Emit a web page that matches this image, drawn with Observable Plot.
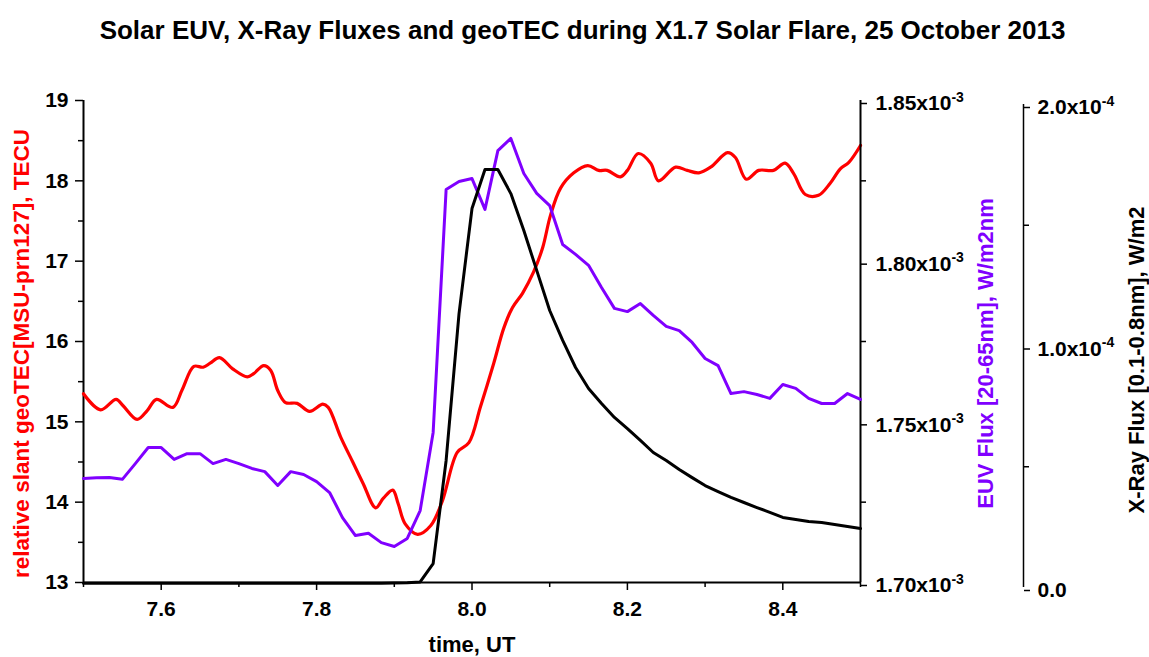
<!DOCTYPE html>
<html>
<head>
<meta charset="utf-8">
<script src="https://cdn.jsdelivr.net/npm/d3@7"></script>
<script src="https://cdn.jsdelivr.net/npm/@observablehq/plot@0.6"></script>
<style>
  html, body { margin: 0; padding: 0; background: #fff; }
  body { font-family: "Liberation Sans", Arial, sans-serif; width: 1149px; height: 657px; overflow: hidden; }
  #title { height: 60px; line-height: 60px; text-align: center; padding-left: 16px; box-sizing: border-box;
           font-size: 26px; font-weight: bold; color: #000; white-space: nowrap; }
  #chart { position: relative; width: 1149px; height: 597px; }
  #chart svg { position: absolute; left: 0; top: 0; }
</style>
</head>
<body>
<div id="title"></div>
<div id="chart"></div>
<script>
// ---------- data ----------
// geoTEC (red), time in decimal hours UT
const tecTime = [7.500,7.522,7.542,7.551,7.569,7.582,7.594,7.615,7.627,7.642,7.654,7.663,7.675,7.692,7.711,7.719,7.732,7.741,7.750,7.760,7.775,7.791,7.808,7.815,7.831,7.847,7.860,7.876,7.886,7.898,7.905,7.914,7.930,7.947,7.962,7.981,7.996,8.011,8.028,8.041,8.052,8.065,8.079,8.091,8.101,8.114,8.131,8.149,8.163,8.174,8.191,8.200,8.214,8.230,8.240,8.262,8.277,8.292,8.307,8.329,8.339,8.353,8.369,8.388,8.403,8.414,8.429,8.446,8.461,8.474,8.485,8.500];
const tecValue = [15.35,15.15,15.28,15.20,15.03,15.14,15.28,15.18,15.40,15.69,15.68,15.73,15.80,15.66,15.56,15.60,15.70,15.64,15.39,15.24,15.23,15.13,15.22,15.18,14.81,14.49,14.23,13.93,14.05,14.15,13.98,13.73,13.60,13.71,14.02,14.62,14.74,15.19,15.73,16.17,16.42,16.60,16.86,17.17,17.57,17.91,18.10,18.19,18.13,18.13,18.05,18.13,18.34,18.22,18.00,18.17,18.13,18.10,18.17,18.35,18.29,18.02,18.13,18.13,18.22,18.09,17.83,17.82,17.97,18.15,18.23,18.44];

// 1-minute flux samples
const fluxTime = [7.5,7.5167,7.5333,7.55,7.5667,7.5833,7.6,7.6167,7.6333,7.65,7.6667,7.6833,7.7,7.7167,7.7333,7.75,7.7667,7.7833,7.8,7.8167,7.8333,7.85,7.8667,7.8833,7.9,7.9167,7.9333,7.95,7.9667,7.9833,8.0,8.0167,8.0333,8.05,8.0667,8.0833,8.1,8.1167,8.1333,8.15,8.1667,8.1833,8.2,8.2167,8.2333,8.25,8.2667,8.2833,8.3,8.3167,8.3333,8.35,8.3667,8.3833,8.4,8.4167,8.4333,8.45,8.4667,8.4833,8.5];
// EUV flux [20-65nm], W/m2nm (purple)
const euvFlux = [1.7324e-3,1.7326e-3,1.7327e-3,1.7321e-3,1.7370e-3,1.7420e-3,1.7420e-3,1.7383e-3,1.7401e-3,1.7401e-3,1.7370e-3,1.7383e-3,1.7370e-3,1.7355e-3,1.7345e-3,1.7302e-3,1.7345e-3,1.7336e-3,1.7314e-3,1.7280e-3,1.7202e-3,1.7146e-3,1.7153e-3,1.7124e-3,1.7112e-3,1.7137e-3,1.7224e-3,1.7467e-3,1.8223e-3,1.8248e-3,1.8257e-3,1.8161e-3,1.8344e-3,1.8382e-3,1.8273e-3,1.8211e-3,1.8173e-3,1.8052e-3,1.8021e-3,1.7987e-3,1.7918e-3,1.7853e-3,1.7843e-3,1.7868e-3,1.7831e-3,1.7797e-3,1.7784e-3,1.7747e-3,1.7697e-3,1.7675e-3,1.7588e-3,1.7594e-3,1.7585e-3,1.7573e-3,1.7616e-3,1.7604e-3,1.7573e-3,1.7557e-3,1.7557e-3,1.7588e-3,1.7570e-3];
// X-ray flux [0.1-0.8nm], W/m2 (black)
const xrayFlux = [1.8e-6,1.8e-6,1.8e-6,1.8e-6,1.8e-6,1.8e-6,1.8e-6,1.8e-6,1.8e-6,1.8e-6,1.8e-6,1.8e-6,1.8e-6,1.8e-6,1.8e-6,1.8e-6,1.8e-6,1.8e-6,1.8e-6,1.8e-6,1.8e-6,1.8e-6,1.8e-6,1.8e-6,1.9e-6,2.0e-6,2.3e-6,9.9e-6,5.26e-5,1.134e-4,1.569e-4,1.731e-4,1.731e-4,1.631e-4,1.478e-4,1.313e-4,1.147e-4,1.023e-4,9.11e-5,8.24e-5,7.62e-5,7.04e-5,6.58e-5,6.09e-5,5.59e-5,5.26e-5,4.89e-5,4.55e-5,4.22e-5,3.97e-5,3.73e-5,3.52e-5,3.31e-5,3.11e-5,2.90e-5,2.82e-5,2.73e-5,2.69e-5,2.61e-5,2.53e-5,2.44e-5];

// axis ticks and labels
const timeTicks = [7.6, 7.8, 8.0, 8.2, 8.4];
const timeMinor = [7.5, 7.7, 7.9, 8.1, 8.3, 8.5];
const tecTicks = [13, 14, 15, 16, 17, 18, 19];
const tecMinor = [13.5, 14.5, 15.5, 16.5, 17.5, 18.5];
const euvTicks = [1.70e-3, 1.75e-3, 1.80e-3, 1.85e-3];
const euvMinor = [1.725e-3, 1.775e-3, 1.825e-3];
const xrayTicks = [0, 1.0e-4, 2.0e-4];
const xrayMinor = [0.5e-4, 1.5e-4];
const titleText = "Solar EUV, X-Ray Fluxes and geoTEC during X1.7 Solar Flare, 25 October 2013";
const xLabel = "time, UT";
const tecLabel = "relative slant geoTEC[MSU-prn127], TECU";
const euvLabel = "EUV Flux [20-65nm], W/m2nm";
const xrayLabel = "X-Ray Flux [0.1-0.8nm], W/m2";

// ---------- drawing ----------
const RED = "#ff0000", PURPLE = "#8000ff", BLACK = "#000000";
const FONT = "'Liberation Sans', Arial, Helvetica, sans-serif";
const W = 1149, H = 597, ML = 83, MR = 289;
const baseStyle = {background: "none", fontFamily: FONT, fontWeight: "bold", overflow: "visible", color: "#000"};

document.getElementById("title").textContent = titleText;

const tecData = tecTime.map((t, i) => ({t, v: tecValue[i]}));
const euvData = fluxTime.map((t, i) => ({t, v: euvFlux[i]}));
const xrayData = fluxTime.map((t, i) => ({t, v: xrayFlux[i]}));

function supify(svg) {
  d3.select(svg).selectAll("text").each(function () {
    const s = this.textContent;
    const i = s.indexOf("^");
    if (i < 0) return;
    const el = d3.select(this);
    el.text(null);
    el.append("tspan").text(s.slice(0, i));
    el.append("tspan").attr("dy", "-0.6em").attr("font-size", "14px").text(s.slice(i + 1));
  });
}
const expFmt = (d, m, e) => d === 0 ? "0.0" : (d / m).toFixed(e === -3 ? 2 : 1) + "x10^" + e;

const tecPlot = Plot.plot({
  width: W, height: H, marginLeft: ML, marginRight: MR, marginTop: 40, marginBottom: 75,
  style: baseStyle,
  x: {domain: [7.5, 8.5], label: null},
  y: {domain: [13, 19], label: null},
  marks: [
    Plot.axisX(timeTicks, {tickSize: 8, tickPadding: 11, fontSize: 21, fontWeight: "bold", tickFormat: d => d.toFixed(1), label: null, strokeWidth: 1.5}),
    Plot.axisX(timeMinor, {tickSize: 5, tickFormat: () => "", label: null, strokeWidth: 1.5}),
    Plot.axisY(tecTicks, {tickSize: 8, tickPadding: 7, fontSize: 21, fontWeight: "bold", tickFormat: d => String(d), label: null, strokeWidth: 1.5}),
    Plot.axisY(tecMinor, {tickSize: 5, tickFormat: () => "", label: null, strokeWidth: 1.5}),
    Plot.ruleY([13], {strokeWidth: 2.2}),
    Plot.ruleX([7.5], {strokeWidth: 2}),
    Plot.line(tecData, {x: "t", y: "v", stroke: RED, strokeWidth: 3.2, curve: "catmull-rom"}),
    Plot.text([tecLabel], {text: d => d, frameAnchor: "left", textAnchor: "middle", rotate: -90, dx: -62, dy: 12, fill: RED, fontSize: 22.5, fontWeight: "bold"}),
    Plot.text([xLabel], {text: d => d, frameAnchor: "bottom", textAnchor: "middle", dy: 69, fill: BLACK, fontSize: 22, fontWeight: "bold"})
  ]
});

const euvPlot = Plot.plot({
  width: W, height: H, marginLeft: ML, marginRight: MR, marginTop: 40, marginBottom: 75,
  style: baseStyle,
  x: {domain: [7.5, 8.5], axis: null},
  y: {domain: [1.70e-3, 1.85e-3], label: null},
  marks: [
    Plot.axisY(euvTicks, {anchor: "right", tickSize: 6, tickPadding: 9, dy: 3, fontSize: 21, fontWeight: "bold", tickFormat: d => expFmt(d, 1e-3, -3), label: null, strokeWidth: 1.5}),
    Plot.axisY(euvMinor, {anchor: "right", tickSize: 5, tickFormat: () => "", label: null, strokeWidth: 1.5}),
    Plot.ruleX([8.5], {strokeWidth: 2}),
    Plot.line(euvData, {x: "t", y: "v", stroke: PURPLE, strokeWidth: 3}),
    Plot.text([euvLabel], {text: d => d, frameAnchor: "right", textAnchor: "middle", rotate: -90, dx: 125, dy: 12, fill: PURPLE, fontSize: 22, fontWeight: "bold"})
  ]
});

const xrayPlot = Plot.plot({
  width: W, height: H, marginLeft: ML, marginRight: MR, marginTop: 44, marginBottom: 70,
  style: baseStyle,
  x: {domain: [7.5, 8.5], axis: null},
  y: {domain: [0, 2.0e-4], label: null},
  marks: [
    Plot.axisY(xrayTicks, {anchor: "right", dx: 163, tickSize: 6, tickPadding: 8, dy: 3, fontSize: 21, fontWeight: "bold", tickFormat: d => expFmt(d, 1e-4, -4), label: null, strokeWidth: 1.5}),
    Plot.axisY(xrayMinor, {anchor: "right", dx: 163, tickSize: 5, tickFormat: () => "", label: null, strokeWidth: 1.5}),
    Plot.ruleX([8.5], {dx: 163, strokeWidth: 1.5}),
    Plot.line(xrayData, {x: "t", y: "v", stroke: BLACK, strokeWidth: 3}),
    Plot.text([xrayLabel], {text: d => d, frameAnchor: "right", textAnchor: "middle", rotate: -90, dx: 276, dy: 14, fill: BLACK, fontSize: 22, fontWeight: "bold"})
  ]
});

supify(euvPlot);
supify(xrayPlot);
const chart = document.getElementById("chart");
chart.appendChild(tecPlot);
chart.appendChild(euvPlot);
chart.appendChild(xrayPlot);
</script>
</body>
</html>
